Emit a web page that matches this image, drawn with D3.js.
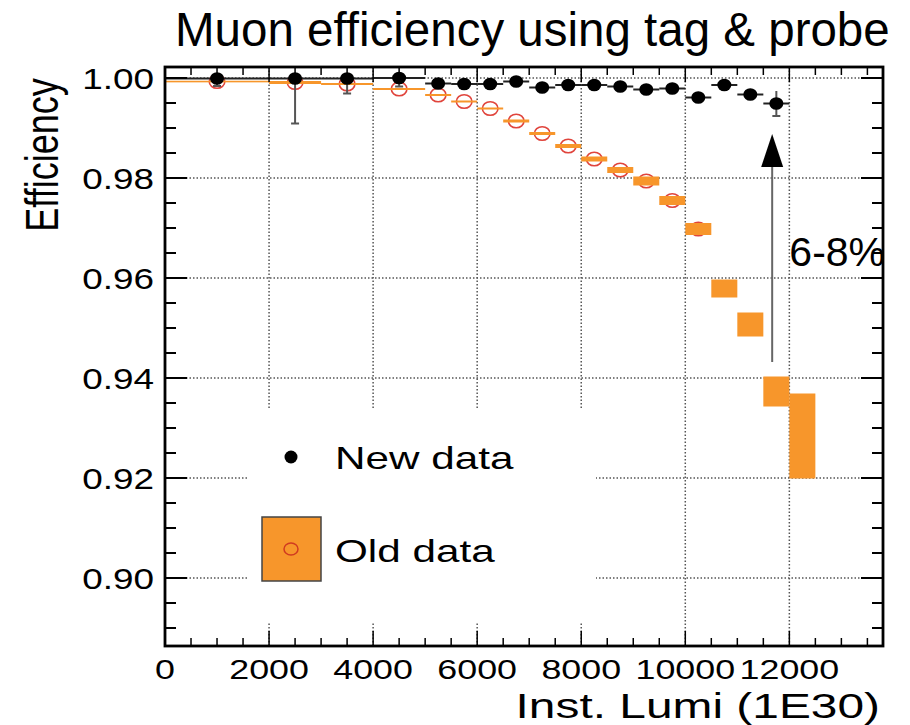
<!DOCTYPE html>
<html>
<head>
<meta charset="utf-8">
<script src="https://cdn.jsdelivr.net/npm/d3@7"></script>
<style>
  body { margin: 0; background: #fff; }
  svg text { font-family: "Liberation Sans", Arial, Helvetica, sans-serif; fill: #000; }
</style>
</head>
<body>
<svg id="chart" width="910" height="725"></svg>
<script>
// bins of instantaneous luminosity (1E30)
const lumiCenters    = [1000, 2500, 3500, 4500, 5250, 5750, 6250, 6750, 7250, 7750, 8250, 8750, 9250, 9750, 10250, 10750, 11250, 11750, 12250];
const lumiHalfWidths = [1000, 500, 500, 500, 250, 250, 250, 250, 250, 250, 250, 250, 250, 250, 250, 250, 250, 250, 250];

// new data (black dots), one bin fewer than the old data
const newEff     = [0.9999, 0.9999, 0.9999, 1.0000, 0.9989, 0.9988, 0.9988, 0.9993, 0.9981, 0.9986, 0.9986, 0.9983, 0.9977, 0.9979, 0.9961, 0.9986, 0.9967, 0.9949];
const newErrLow  = [0.0015, 0.0090, 0.0030, 0.0017, 0.0004, 0.0004, 0.0004, 0.0004, 0.0004, 0.0004, 0.0004, 0.0004, 0.0004, 0.0004, 0.0005, 0.0005, 0.0006, 0.0025];
const newErrHigh = [0.0002, 0.0002, 0.0003, 0.0007, 0.0004, 0.0004, 0.0004, 0.0004, 0.0004, 0.0004, 0.0004, 0.0004, 0.0004, 0.0004, 0.0005, 0.0005, 0.0006, 0.0025];

// old data (orange error boxes + open red circles)
const oldEff = [0.9993, 0.9991, 0.9988, 0.9978, 0.9966, 0.9953, 0.9939, 0.9914, 0.9889, 0.9864, 0.9838, 0.9816, 0.9794, 0.9755, 0.9698, 0.9579, 0.9507, 0.9373, 0.9284];
const oldErr = [0.00015, 0.0003, 0.0002, 0.0002, 0.0002, 0.0002, 0.0002, 0.0003, 0.0003, 0.0004, 0.0005, 0.0006, 0.0009, 0.0009, 0.0012, 0.0018, 0.0024, 0.0030, 0.0085];

const xTicks = [0, 2000, 4000, 6000, 8000, 10000, 12000];
const xTickLabels = ["0", "2000", "4000", "6000", "8000", "10000", "12000"];
const yTicks = [0.90, 0.92, 0.94, 0.96, 0.98, 1.00];
const yTickLabels = ["0.90", "0.92", "0.94", "0.96", "0.98", "1.00"];

// "6-8%" annotation arrow
const arrowLumi = 11670;
const arrowFrom = 0.9432;
const arrowTo = 0.9888;

const ORANGE = "#f7962b";
const RED = "#e0443c";

const svg = d3.select("#chart");
const x = d3.scaleLinear().domain([0, 13800]).range([165, 883]);
const y = d3.scaleLinear().domain([0.8864, 1.0022]).range([646, 67]);
const [x0, x1] = x.range();
const [y0, y1] = y.range();

// ROOT text on the original picture looks stretched horizontally
function rootText(g, str, px, py, size, sx, anchor) {
  return g.append("text")
    .attr("transform", `translate(${px},${py}) scale(${sx},1)`)
    .attr("text-anchor", anchor)
    .style("font-size", size + "px")
    .text(str);
}

// grid
const grid = svg.append("g")
  .attr("stroke", "#555")
  .attr("stroke-width", 1.5)
  .attr("stroke-dasharray", "1.5,2");
grid.selectAll("line.gx")
  .data(xTicks.filter((d) => d > 0))
  .join("line")
  .attr("x1", (d) => x(d)).attr("x2", (d) => x(d))
  .attr("y1", y0).attr("y2", y1);
grid.selectAll("line.gy")
  .data(yTicks)
  .join("line")
  .attr("x1", x0).attr("x2", x1)
  .attr("y1", (d) => y(d)).attr("y2", (d) => y(d));

// legend background hides the grid below it
svg.append("rect")
  .attr("x", 247).attr("y", 410)
  .attr("width", 349).attr("height", 212)
  .attr("fill", "#fff");

// old data: circles first, error boxes drawn over them
const oldG = svg.append("g");
oldG.selectAll("ellipse")
  .data(oldEff)
  .join("ellipse")
  .attr("cx", (d, i) => x(lumiCenters[i]))
  .attr("cy", (d) => y(d))
  .attr("rx", 7.8).attr("ry", 6.8)
  .attr("fill", "none")
  .attr("stroke", RED)
  .attr("stroke-width", 1.6);
oldG.selectAll("rect")
  .data(oldEff)
  .join("rect")
  .attr("x", (d, i) => x(lumiCenters[i] - lumiHalfWidths[i]))
  .attr("width", (d, i) => x(lumiCenters[i] + lumiHalfWidths[i]) - x(lumiCenters[i] - lumiHalfWidths[i]))
  .attr("y", (d, i) => y(d + oldErr[i]))
  .attr("height", (d, i) => Math.max(1.6, y(d - oldErr[i]) - y(d + oldErr[i])))
  .attr("fill", ORANGE);

// new data: error bars and dots
const newG = svg.append("g");
newG.selectAll("line.ex")
  .data(newEff)
  .join("line")
  .attr("class", "ex")
  .attr("x1", (d, i) => x(lumiCenters[i] - lumiHalfWidths[i]))
  .attr("x2", (d, i) => x(lumiCenters[i] + lumiHalfWidths[i]))
  .attr("y1", (d) => y(d)).attr("y2", (d) => y(d))
  .attr("stroke", "#222").attr("stroke-width", 2);
newG.selectAll("line.ey")
  .data(newEff)
  .join("line")
  .attr("class", "ey")
  .attr("x1", (d, i) => x(lumiCenters[i])).attr("x2", (d, i) => x(lumiCenters[i]))
  .attr("y1", (d, i) => y(d + newErrHigh[i]))
  .attr("y2", (d, i) => y(d - newErrLow[i]))
  .attr("stroke", "#555").attr("stroke-width", 2);
newG.selectAll("line.cap")
  .data(newEff)
  .join("line")
  .attr("class", "cap")
  .attr("x1", (d, i) => x(lumiCenters[i]) - 4).attr("x2", (d, i) => x(lumiCenters[i]) + 4)
  .attr("y1", (d, i) => y(d - newErrLow[i])).attr("y2", (d, i) => y(d - newErrLow[i]))
  .attr("stroke", "#555").attr("stroke-width", 2);
newG.selectAll("ellipse")
  .data(newEff)
  .join("ellipse")
  .attr("cx", (d, i) => x(lumiCenters[i]))
  .attr("cy", (d) => y(d))
  .attr("rx", 7).attr("ry", 6.3)
  .attr("fill", "#000");

// frame and ticks on all four sides
const axes = svg.append("g").attr("stroke", "#000");
const xMinor = d3.range(0, 13800, 500);
const yMinor = d3.range(0.890, 1.0021, 0.005);
axes.selectAll("line.xb")
  .data(xMinor)
  .join("line")
  .attr("x1", (d) => x(d)).attr("x2", (d) => x(d))
  .attr("y1", y0).attr("y2", (d) => y0 - (d % 2000 === 0 ? 15 : 8))
  .attr("stroke-width", 1.5);
axes.selectAll("line.xt")
  .data(xMinor)
  .join("line")
  .attr("x1", (d) => x(d)).attr("x2", (d) => x(d))
  .attr("y1", y1).attr("y2", (d) => y1 + (d % 2000 === 0 ? 15 : 8))
  .attr("stroke-width", 1.5);
axes.selectAll("line.yl")
  .data(yMinor)
  .join("line")
  .attr("y1", (d) => y(d)).attr("y2", (d) => y(d))
  .attr("x1", x0)
  .attr("x2", (d) => x0 + (Math.round(d * 1000) % 20 === 0 ? 22 : 11))
  .attr("stroke-width", 2);
axes.selectAll("line.yr")
  .data(yMinor)
  .join("line")
  .attr("y1", (d) => y(d)).attr("y2", (d) => y(d))
  .attr("x1", x1)
  .attr("x2", (d) => x1 - (Math.round(d * 1000) % 20 === 0 ? 22 : 11))
  .attr("stroke-width", 2);
svg.append("rect")
  .attr("x", x0).attr("y", y1)
  .attr("width", x1 - x0).attr("height", y0 - y1)
  .attr("fill", "none")
  .attr("stroke", "#000")
  .attr("stroke-width", 2.8);

// tick labels
const labels = svg.append("g");
xTicks.forEach((d, i) => rootText(labels, xTickLabels[i], x(d), 678.5, 28, 1.28, "middle"));
yTicks.forEach((d, i) => rootText(labels, yTickLabels[i], 154, y(d) + 10.5, 30, 1.23, "end"));

// axis titles
rootText(svg, "Inst. Lumi (1E30)", 880, 718, 36, 1.33, "end");
svg.append("text")
  .attr("transform", "translate(58,155) rotate(-90) scale(1,1.3)")
  .attr("text-anchor", "middle")
  .style("font-size", "36px")
  .text("Efficiency");

// legend
const legend = svg.append("g");
legend.append("circle")
  .attr("cx", 291).attr("cy", 457).attr("r", 6.5)
  .attr("fill", "#000");
rootText(legend, "New data", 335, 469, 32, 1.32, "start");
legend.append("rect")
  .attr("x", 262).attr("y", 517)
  .attr("width", 59).attr("height", 64)
  .attr("fill", ORANGE)
  .attr("stroke", "#444")
  .attr("stroke-width", 1.5);
legend.append("ellipse")
  .attr("cx", 291).attr("cy", 549).attr("rx", 7).attr("ry", 6)
  .attr("fill", "none")
  .attr("stroke", "#d03a20")
  .attr("stroke-width", 1.5);
rootText(legend, "Old data", 335, 562, 32, 1.32, "start");

// annotation arrow
const ax = x(arrowLumi);
const tipY = y(arrowTo);
svg.append("line")
  .attr("x1", ax).attr("x2", ax)
  .attr("y1", y(arrowFrom)).attr("y2", tipY + 30)
  .attr("stroke", "#666")
  .attr("stroke-width", 2);
svg.append("path")
  .attr("d", `M${ax},${tipY} L${ax - 11},${tipY + 33} L${ax + 11},${tipY + 33} Z`)
  .attr("fill", "#000");
svg.append("text")
  .attr("x", x(12000)).attr("y", 266)
  .style("font-size", "41px")
  .text("6-8%");

// title
svg.append("text")
  .attr("x", 175).attr("y", 46)
  .style("font-size", "47.5px")
  .text("Muon efficiency using tag & probe");
</script>
</body>
</html>
